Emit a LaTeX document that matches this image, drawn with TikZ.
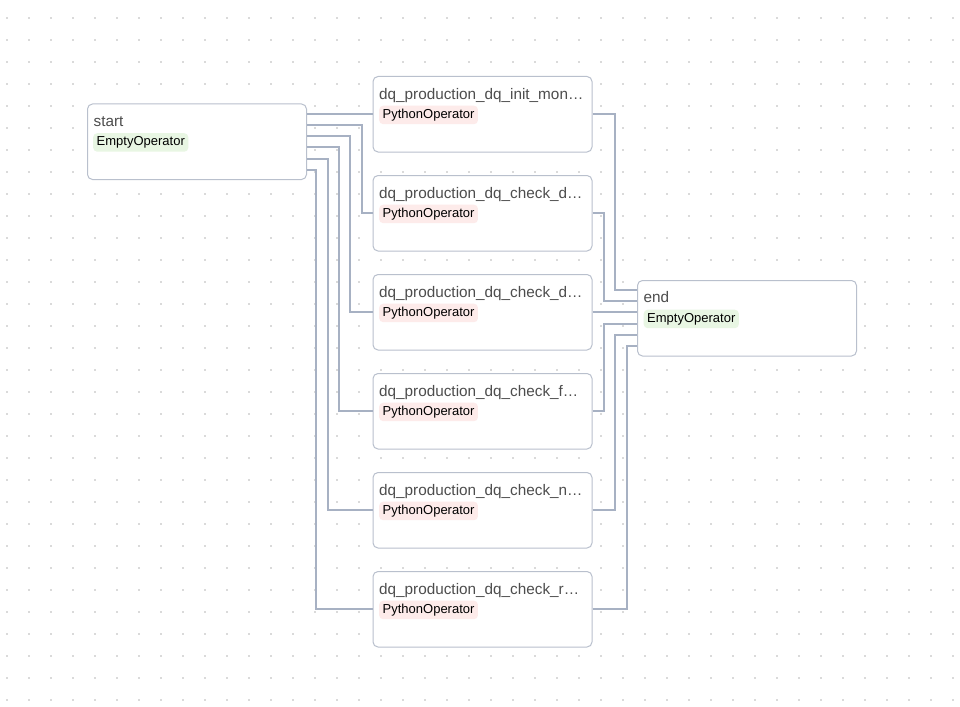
\documentclass[tikz,border=0pt]{standalone}
\usepackage{fontspec}
\setmainfont{Liberation Sans}
\usetikzlibrary{calc}
\definecolor{edgecol}{HTML}{A7B1C3}
\definecolor{boxline}{HTML}{B9C0CD}
\definecolor{titlecol}{HTML}{4D4D4D}
\definecolor{dotcol}{HTML}{DADADA}
\definecolor{emptybg}{HTML}{E8F6E3}
\definecolor{pybg}{HTML}{FDEBEA}
\tikzset{
  taskbox/.style={draw=boxline, line width=1pt, fill=white, rounded corners=5pt,
    minimum width=219pt, minimum height=75.5pt, inner sep=0pt, anchor=north west},
  tasktitle/.style={anchor=base west, inner sep=0pt, text=titlecol,
    font=\fontsize{15.3}{18}\selectfont},
  optag/.style={anchor=north west, rounded corners=4pt, inner xsep=3.5pt, inner ysep=0pt,
    minimum height=18.5pt, text=black, font=\fontsize{13}{15}\selectfont},
  emptytag/.style={optag, fill=emptybg},
  pytag/.style={optag, fill=pybg},
  edge/.style={draw=edgecol, line width=2pt},
}
\begin{document}
\begin{tikzpicture}[x=1pt,y=-1pt]
  \useasboundingbox (0,0) rectangle (960,706);
  \fill[white] (0,0) rectangle (960,706);
  % dotted canvas grid
  \foreach \i in {0,...,43}{
    \foreach \j in {0,...,31}{
      \fill[dotcol] ({7+22*\i-1},{18+22*\j-1}) rectangle ++(2,2);
    }
  }

  % task cards
  \node[taskbox] (start) at (87,103.5) {};
  \node[tasktitle] (start-title) at ($(start.north west)+(6.5,23.5)$) {start};
  \node[emptytag] (start-tag) at ($(start.north west)+(6,29.5)$) {EmptyOperator};

  \foreach \n/\y/\t in {t1/76/init\_mon, t2/175/check\_d, t3/274/check\_d,
                        t4/373/check\_f, t5/472/check\_n, t6/571/check\_r}{
    \node[taskbox] (\n) at (372.5,\y) {};
    \node[tasktitle] (\n-title) at ($(\n.north west)+(6.5,23.5)$) {dq\_production\_dq\_\t…};
    \node[pytag] (\n-tag) at ($(\n.north west)+(6.5,29.5)$) {PythonOperator};
  }

  \node[taskbox] (finish) at (637,280) {};
  \node[tasktitle] (finish-title) at ($(finish.north west)+(6.5,22.5)$) {end};
  \node[emptytag] (finish-tag) at ($(finish.north west)+(6.5,29.5)$) {EmptyOperator};

  % start -> tasks
  \draw[edge] (t1.west -| start.east) -- (t1.west);
  \draw[edge] ($(start.north east)+(0,21.0)$) -| ($(t2.west)+(-11,0)$) -- (t2.west);
  \draw[edge] ($(start.north east)+(0,32.4)$) -| ($(t3.west)+(-22.3,0)$) -- (t3.west);
  \draw[edge] ($(start.north east)+(0,43.8)$) -| ($(t4.west)+(-33.6,0)$) -- (t4.west);
  \draw[edge] ($(start.north east)+(0,55.2)$) -| ($(t5.west)+(-45,0)$) -- (t5.west);
  \draw[edge] ($(start.north east)+(0,66.6)$) -| ($(t6.west)+(-56.3,0)$) -- (t6.west);

  % tasks -> end
  \draw[edge] (t1.east) -- ++(22.8,0) |- ($(finish.north west)+(0,9.5)$);
  \draw[edge] (t2.east) -- ++(11.3,0) |- ($(finish.north west)+(0,20.9)$);
  \draw[edge] (t3.east) -- (t3.east -| finish.west);
  \draw[edge] (t4.east) -- ++(11.3,0) |- ($(finish.north west)+(0,43.6)$);
  \draw[edge] (t5.east) -- ++(22.8,0) |- ($(finish.north west)+(0,55.0)$);
  \draw[edge] (t6.east) -- ++(34.3,0) |- ($(finish.north west)+(0,66.4)$);
\end{tikzpicture}
\end{document}
